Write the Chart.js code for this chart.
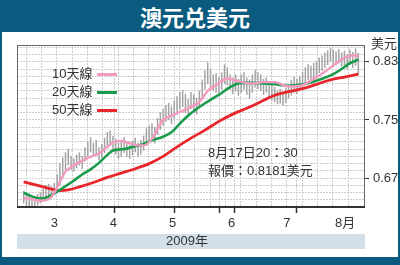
<!DOCTYPE html>
<html><head><meta charset="utf-8">
<script src="https://cdn.jsdelivr.net/npm/chart.js@4"></script>
<style>
html,body{margin:0;padding:0;}
body{width:400px;height:265px;overflow:hidden;background:#0b5b80;position:relative;font-family:"Liberation Sans","Noto Sans CJK TC",sans-serif;}
#title{position:absolute;left:0;top:0;width:390px;height:32px;line-height:32px;text-align:center;color:#fff;font-weight:bold;font-size:22px;font-family:"Noto Sans CJK TC",sans-serif;}
#panel{position:absolute;left:2px;top:32px;width:396px;height:225px;background:#fff;}
#band{position:absolute;left:17px;top:234px;width:348px;height:15px;background:#d3dfe9;}
canvas{position:absolute;left:0;top:0;}
.t{position:absolute;color:#333;font-size:13px;white-space:nowrap;line-height:14px;}
.sw{position:absolute;height:3px;width:20px;}
</style></head>
<body>
<div id="title">澳元兑美元</div>
<div id="panel"></div>
<div id="band"></div>
<canvas id="c" width="400" height="265"></canvas>
<div class="t" style="left:371px;top:37px;">美元</div>
<div class="t" style="left:52px;top:67px;">10天線</div><div class="sw" style="left:97px;top:73px;background:#f39ac0"></div>
<div class="t" style="left:52px;top:85px;">20天線</div><div class="sw" style="left:97px;top:91px;background:#1a9b4b"></div>
<div class="t" style="left:52px;top:103px;">50天線</div><div class="sw" style="left:97px;top:109px;background:#e8252b"></div>
<div class="t" style="left:208px;top:146px;">8月17日20：30</div>
<div class="t" style="left:208px;top:164px;">報價：0.8181美元</div>
<div class="t" style="left:166px;top:234px;">2009年</div>
<script>
// daily high / low (trading days, 2 Mar - 17 Aug 2009)
const high = [0.652,0.648,0.646,0.645,0.644,0.648,0.650,0.655,0.660,0.662,
0.658,0.663,0.675,0.690,0.698,0.705,0.710,0.700,0.697,0.702,
0.705,0.700,0.712,0.720,0.726,0.718,0.722,0.712,0.716,0.725,
0.733,0.735,0.728,0.724,0.718,0.722,0.726,0.720,0.715,0.721,
0.725,0.718,0.722,0.728,0.738,0.742,0.745,0.740,0.752,0.760,
0.765,0.770,0.773,0.768,0.776,0.782,0.788,0.791,0.785,0.778,
0.788,0.785,0.780,0.790,0.805,0.818,0.829,0.820,0.812,0.814,
0.808,0.815,0.826,0.822,0.812,0.808,0.812,0.806,0.812,0.815,
0.808,0.805,0.812,0.818,0.815,0.812,0.806,0.808,0.802,0.798,
0.795,0.790,0.792,0.788,0.793,0.798,0.805,0.809,0.806,0.810,
0.816,0.822,0.826,0.824,0.828,0.830,0.835,0.838,0.842,0.845,
0.848,0.846,0.844,0.847,0.842,0.845,0.840,0.846,0.843,0.848,0.842];
const low = [0.636,0.632,0.630,0.629,0.631,0.633,0.636,0.640,0.644,0.646,
0.643,0.648,0.652,0.660,0.672,0.680,0.688,0.682,0.680,0.684,
0.688,0.683,0.693,0.700,0.706,0.700,0.703,0.695,0.698,0.705,
0.712,0.715,0.708,0.703,0.697,0.700,0.705,0.700,0.697,0.702,
0.706,0.700,0.703,0.708,0.715,0.720,0.723,0.718,0.730,0.737,
0.742,0.748,0.750,0.745,0.752,0.758,0.765,0.768,0.760,0.755,
0.765,0.762,0.758,0.768,0.782,0.792,0.800,0.795,0.790,0.788,
0.787,0.792,0.800,0.798,0.792,0.786,0.790,0.784,0.788,0.792,
0.785,0.780,0.788,0.795,0.793,0.790,0.785,0.788,0.780,0.777,
0.775,0.772,0.773,0.770,0.774,0.780,0.784,0.788,0.786,0.790,
0.795,0.800,0.805,0.806,0.808,0.810,0.815,0.818,0.822,0.826,
0.830,0.828,0.826,0.828,0.824,0.825,0.820,0.826,0.822,0.825,0.812];

// moving averages (trading-day index : value)
const ma10Days = [0,3,6,9,11,13,15,17,20,23,27,30,32,35,38,41,43,46,48,50,53,56,60,63,66,69,73,77,82,86,90,95,100,103,106,110,114,117,119,120];
const ma10 = [0.643,0.641,0.639,0.641,0.650,0.665,0.679,0.685,0.692,0.698,0.704,0.713,0.719,0.721,0.718,0.715,0.715,0.724,0.738,0.750,0.756,0.761,0.768,0.775,0.790,0.798,0.807,0.803,0.800,0.802,0.802,0.796,0.798,0.804,0.811,0.822,0.833,0.838,0.839,0.837];
const ma20Days = [0,3,6,8,10,13,17,21,24,27,30,32,36,39,43,46,50,53,56,59,62,65,68,71,74,78,82,86,90,95,100,104,108,111,114,117,120];
const ma20 = [0.650,0.645,0.642,0.643,0.647,0.654,0.664,0.675,0.682,0.691,0.702,0.708,0.710,0.713,0.717,0.722,0.727,0.733,0.745,0.756,0.765,0.773,0.780,0.787,0.795,0.801,0.801,0.800,0.799,0.797,0.799,0.803,0.808,0.813,0.820,0.828,0.833];
const ma50Days = [0,5,10,13,16,20,25,30,35,40,45,50,55,60,65,70,75,80,85,90,95,100,105,110,115,120];
const ma50 = [0.665,0.660,0.655,0.653,0.654,0.658,0.664,0.671,0.677,0.683,0.690,0.700,0.713,0.725,0.736,0.748,0.758,0.766,0.775,0.784,0.789,0.793,0.799,0.805,0.809,0.813];

// axis
const monthLabels = ['3','4','5','6','7','8月'];
const monthLabelAt = [11.0,32.2,53.4,74.6,94.4,115.3];
const monthBounds = [21.5,43.5,64.5,86.5,109.5];
const yLabels = [0.67,0.75,0.83];
const yMin = 0.629, yMax = 0.853;

const N = high.length;
const bars = high.map((h,i)=>({x:i, y:[low[i], h]}));
const xy = (d,v)=>d.map((x,i)=>({x, y:v[i]}));

Chart.defaults.font.family = '"Liberation Sans","Noto Sans CJK TC",sans-serif';
Chart.defaults.font.size = 13;
Chart.defaults.color = '#333';

const frame = {
  id:'frame',
  afterDatasetsDraw(chart){
    const {ctx, chartArea:a} = chart;
    ctx.save();
    ctx.strokeStyle = '#666'; ctx.lineWidth = 1;
    ctx.strokeRect(Math.round(a.left)+0.5, Math.round(a.top)+0.5, Math.round(a.right-a.left)-1, Math.round(a.bottom-a.top)-1);
    ctx.strokeStyle = '#333'; ctx.lineWidth = 2;
    ctx.beginPath(); ctx.moveTo(a.left, Math.round(a.bottom)-1); ctx.lineTo(a.right, Math.round(a.bottom)-1); ctx.stroke();
    ctx.restore();
  }
};

new Chart(document.getElementById('c'), {
  type:'line',
  data:{datasets:[
    {type:'bar', data:bars, backgroundColor:'#a2a2a2', barThickness:0.8, order:5},
    {label:'50天線', data:xy(ma50Days, ma50), borderColor:'#e8252b', borderWidth:2.8, pointRadius:0, cubicInterpolationMode:'monotone', order:3},
    {label:'20天線', data:xy(ma20Days, ma20), borderColor:'#1a9b4b', borderWidth:2.6, pointRadius:0, cubicInterpolationMode:'monotone', order:2},
    {label:'10天線', data:xy(ma10Days, ma10), borderColor:'#f39ac0', borderWidth:2.4, pointRadius:0, cubicInterpolationMode:'monotone', order:1}
  ]},
  options:{
    responsive:false, animation:false, devicePixelRatio:1,
    layout:{padding:{left:17, top:45, right:0, bottom:0}},
    plugins:{legend:{display:false}, tooltip:{enabled:false}},
    scales:{
      x:{type:'linear', min:-0.5, max:N-0.5,
        afterBuildTicks(s){
          const t=[];
          for(let v=3.6; v<N-0.5; v+=5.5) t.push({value:v, kind:'g'});
          monthBounds.forEach(v=>t.push({value:v, kind:'b'}));
          monthLabelAt.forEach((v,i)=>t.push({value:v, kind:'l', text:monthLabels[i]}));
          s.ticks=t;
        },
        afterFit(s){ s.height = 57; },
        ticks:{autoSkip:false, maxRotation:0, padding:3,
          callback:(v,i,ticks)=>ticks[i].kind==='l'?ticks[i].text:''},
        grid:{color:c=>c.tick&&c.tick.kind==='l'?'rgba(0,0,0,0)':'#cdcdcd', lineWidth:1,
          tickColor:c=>c.tick&&c.tick.kind==='b'?'#333':'rgba(0,0,0,0)', tickLength:5, tickWidth:1.5},
        border:{display:false, dash:[2,1]}
      },
      y:{type:'linear', position:'right', min:yMin, max:yMax,
        afterBuildTicks(s){
          const t=[];
          for(let k=63;k<=85;k++) t.push({value:k/100});
          s.ticks=t;
        },
        afterFit(s){ s.width = 35; },
        ticks:{autoSkip:false, padding:4,
          callback:v=>yLabels.some(l=>Math.abs(l-v)<1e-6)?v.toFixed(2):''},
        grid:{color:'#cdcdcd', lineWidth:1,
          tickColor:c=>c.tick&&yLabels.some(l=>Math.abs(l-c.tick.value)<1e-6)?'#333':'rgba(0,0,0,0)', tickLength:4},
        border:{display:false, dash:[2,1]}
      }
    }
  },
  plugins:[frame]
});
</script>
</body></html>
